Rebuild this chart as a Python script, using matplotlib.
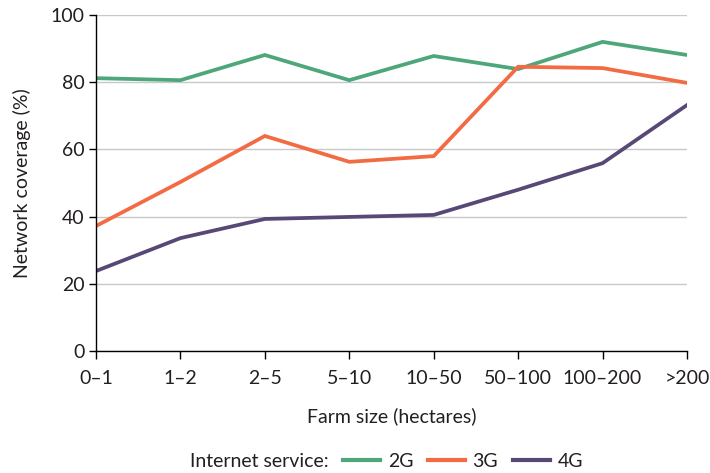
import numpy as np
import matplotlib.pyplot as plt
from matplotlib.lines import Line2D

plt.rcParams['font.family'] = ['Lato', 'DejaVu Sans']

# Data
farm_sizes = ["0–1", "1–2", "2–5", "5–10", "10–50", "50–100", "100–200", ">200"]
cov_2g = [81.2, 80.6, 88.1, 80.6, 87.8, 83.9, 92.0, 88.1]
cov_3g = [37.2, 50.3, 64.0, 56.3, 58.0, 84.6, 84.2, 79.8]
cov_4g = [23.8, 33.6, 39.3, 39.9, 40.5, 48.0, 55.9, 73.2]

colors = {"2G": "#4ea77a", "3G": "#f26b43", "4G": "#574875"}
text_col = "#231f20"
fs = 14

fig = plt.figure(figsize=(7.1, 4.73), dpi=100)
ax = fig.add_axes([0.1352, 0.2579, 0.8324, 0.7104])

x = np.arange(len(farm_sizes))
for name, vals in [("2G", cov_2g), ("3G", cov_3g), ("4G", cov_4g)]:
    ax.plot(x, vals, color=colors[name], lw=2.7, solid_joinstyle='miter', label=name)

ax.set_xlim(0, len(farm_sizes) - 1)
ax.set_ylim(0, 100)
ax.set_yticks(range(0, 101, 20))
ax.set_xticks(x)
ax.set_xticklabels(farm_sizes)
ax.yaxis.grid(True, color="#c8c8c8", lw=1)
ax.set_axisbelow(True)

for s in ["top", "right"]:
    ax.spines[s].set_visible(False)
for s in ["left", "bottom"]:
    ax.spines[s].set_color("black")
    ax.spines[s].set_linewidth(1)

ax.tick_params(axis='x', length=6, width=1, pad=8, labelsize=fs, colors=text_col)
ax.tick_params(axis='y', length=5, width=1, pad=3, labelsize=fs, colors=text_col)
ax.tick_params(axis='both', color='black')

ax.set_xlabel("Farm size (hectares)", fontsize=fs, color=text_col, labelpad=14)
ax.set_ylabel("Network coverage (%)", fontsize=fs, color=text_col, labelpad=14)

handles = [Line2D([], [], color=colors[k], lw=3) for k in ["2G", "3G", "4G"]]
fig.text(0.267, 0.024, "Internet service:", fontsize=fs, color=text_col, va='center')
fig.legend(handles, ["2G", "3G", "4G"], loc='center left', bbox_to_anchor=(0.483, 0.024),
           ncol=3, frameon=False, fontsize=fs, handlelength=1.9, handletextpad=0.4,
           columnspacing=0.75, labelcolor=text_col, borderpad=0, borderaxespad=0)

fig.savefig("out.png", dpi=100)
